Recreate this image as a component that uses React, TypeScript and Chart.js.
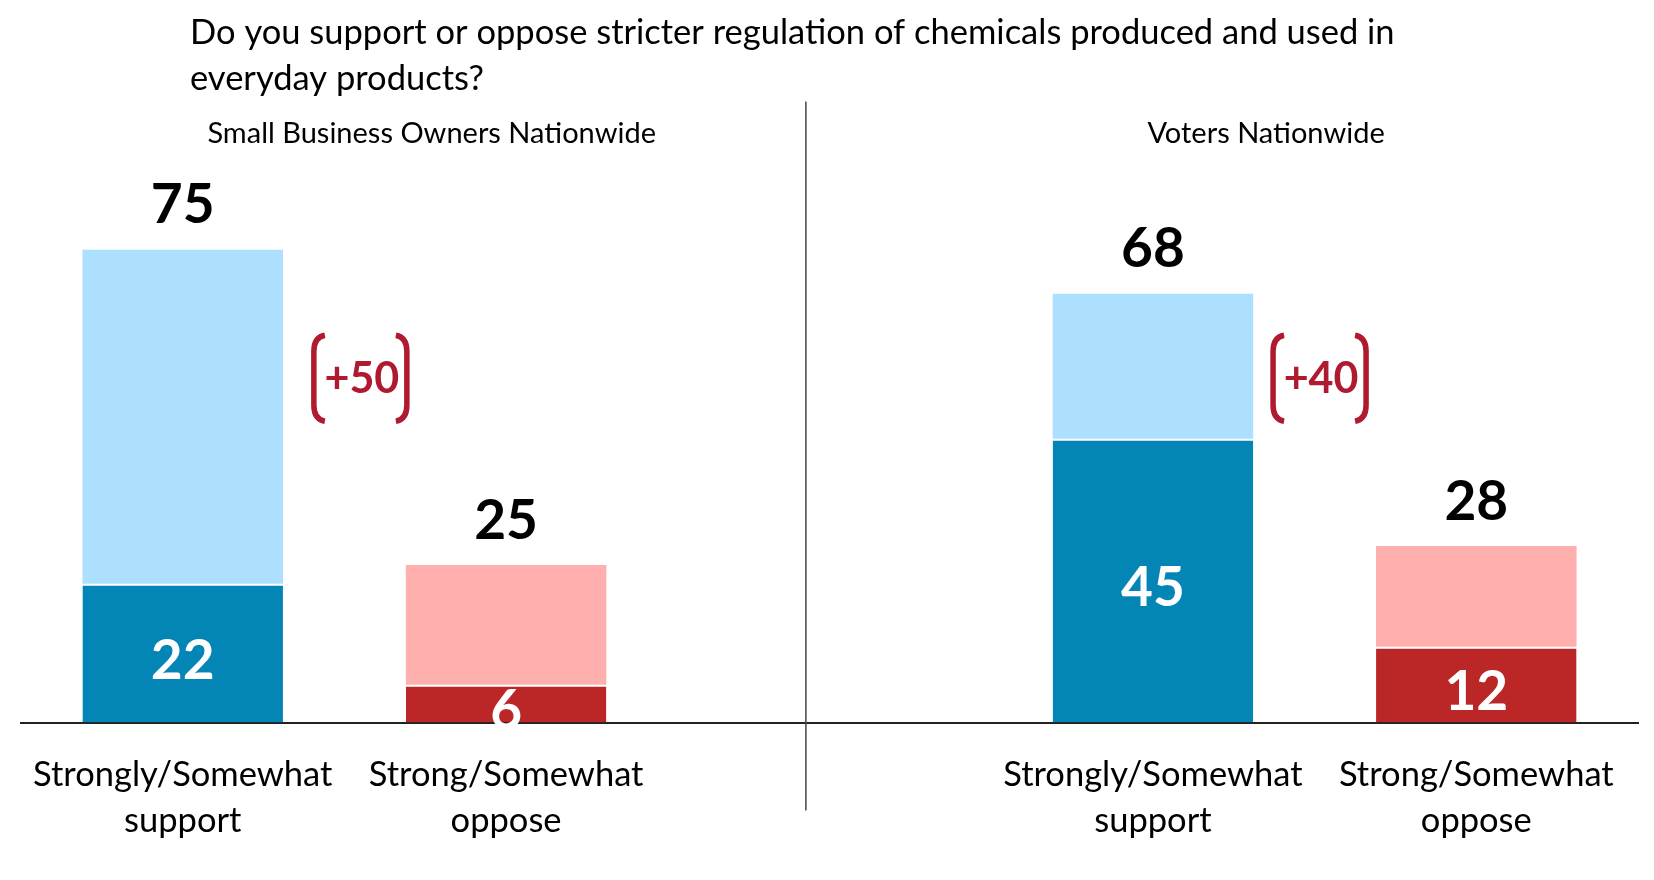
import React, { useEffect, useRef } from "react";
import { Chart, registerables } from "chart.js";

Chart.register(...registerables);

const categories = [
  "Strongly/Somewhat support",
  "Strong/Somewhat oppose",
  "",
  "Strongly/Somewhat support",
  "Strong/Somewhat oppose",
];
const categoryLines = [
  ["Strongly/Somewhat", "support"],
  ["Strong/Somewhat", "oppose"],
  [],
  ["Strongly/Somewhat", "support"],
  ["Strong/Somewhat", "oppose"],
];
const strongValues = [22, 6, null, 45, 12];
const totalValues = [75, 25, null, 68, 28];
const panelTitles = ["Small Business Owners Nationwide", "Voters Nationwide"];
const netLabels = ["+50", "+40"];
const titleLines = [
  "Do you support or oppose stricter regulation of chemicals produced and used in",
  "everyday products?",
];

const somewhatValues = totalValues.map((t, i) =>
  t == null || strongValues[i] == null ? null : (t as number) - (strongValues[i] as number)
);

const FONT = "Lato, 'Open Sans', sans-serif";
const DARK = ["#0385B5", "#BB2727", "#0385B5", "#0385B5", "#BB2727"];
const LIGHT = ["#ADDFFF", "#FFAFAD", "#ADDFFF", "#ADDFFF", "#FFAFAD"];
const BRACKET_RED = "#B01A30";

const overlay = {
  id: "overlay",
  afterDraw(chart: any) {
    const { ctx, chartArea } = chart;
    const x = chart.scales.x;
    const y = chart.scales.y;
    const slot = x.getPixelForValue(1) - x.getPixelForValue(0);
    ctx.save();

    // title
    ctx.fillStyle = "#000";
    ctx.font = `34.5px ${FONT}`;
    ctx.textAlign = "left";
    ctx.textBaseline = "middle";
    ctx.fillText(titleLines[0], 190, 33);
    ctx.fillText(titleLines[1], 190, 79);

    // panel subtitles
    ctx.font = `29px ${FONT}`;
    ctx.textAlign = "center";
    ctx.fillText(panelTitles[0], x.getPixelForValue(0.77), 134);
    ctx.fillText(panelTitles[1], x.getPixelForValue(3.35), 134);

    // divider
    const dx = x.getPixelForValue(2) - 0.073 * slot;
    ctx.strokeStyle = "#444";
    ctx.lineWidth = 1.5;
    ctx.beginPath();
    ctx.moveTo(dx, y.getPixelForValue(98.5));
    ctx.lineTo(dx, chartArea.bottom + 88);
    ctx.stroke();

    // category labels
    ctx.fillStyle = "#000";
    ctx.font = `34.5px ${FONT}`;
    categoryLines.forEach((lines, i) => {
      const cx = x.getPixelForValue(i);
      lines.forEach((ln, j) => {
        ctx.fillText(ln, cx, chartArea.bottom + 52.5 + j * 45.5);
      });
    });

    // value labels
    ctx.font = `bold 55px ${FONT}`;
    totalValues.forEach((t, i) => {
      if (t == null) return;
      const cx = x.getPixelForValue(i);
      ctx.fillStyle = "#000";
      ctx.fillText(String(t), cx, y.getPixelForValue(t) - 44);
      const s = strongValues[i] as number;
      ctx.fillStyle = "#fff";
      ctx.fillText(String(s), cx, y.getPixelForValue(s / 2) + 8);
    });

    // net brackets
    const supportIdx = [0, 3];
    const offs = [0.554, 0.52];
    supportIdx.forEach((si, k) => {
      const cx = x.getPixelForValue(si + offs[k]);
      const cy = y.getPixelForValue(54.6);
      ctx.fillStyle = BRACKET_RED;
      ctx.font = `bold 43px ${FONT}`;
      ctx.fillText(netLabels[k], cx, cy + 1);
      ctx.strokeStyle = BRACKET_RED;
      ctx.lineWidth = 5.5;
      const top = cy - 43;
      const bot = cy + 43;
      const lx = cx - 48;
      const rx = cx + 45;
      ctx.beginPath();
      ctx.moveTo(lx + 11, top);
      ctx.quadraticCurveTo(lx, top + 2, lx, top + 16);
      ctx.lineTo(lx, bot - 16);
      ctx.quadraticCurveTo(lx, bot - 2, lx + 11, bot);
      ctx.stroke();
      ctx.beginPath();
      ctx.moveTo(rx - 11, top);
      ctx.quadraticCurveTo(rx, top + 2, rx, top + 16);
      ctx.lineTo(rx, bot - 16);
      ctx.quadraticCurveTo(rx, bot - 2, rx - 11, bot);
      ctx.stroke();
    });

    ctx.restore();
  },
};

export default function App() {
  const ref = useRef<HTMLCanvasElement | null>(null);
  useEffect(() => {
    if (!ref.current) return;
    const chart = new Chart(ref.current, {
      type: "bar",
      data: {
        labels: categories,
        datasets: [
          {
            label: "Strongly",
            data: strongValues as any,
            backgroundColor: DARK,
            borderColor: "#fff",
            borderWidth: { top: 2, left: 0, right: 0, bottom: 0 },
            borderSkipped: false,
            categoryPercentage: 1,
            barPercentage: 0.62,
          },
          {
            label: "Somewhat",
            data: somewhatValues as any,
            backgroundColor: LIGHT,
            borderWidth: 0,
            categoryPercentage: 1,
            barPercentage: 0.62,
          },
        ],
      },
      options: {
        responsive: false,
        animation: false,
        layout: { padding: { left: 21, right: 16, top: 92, bottom: 149.5 } },
        plugins: { legend: { display: false }, tooltip: { enabled: false }, title: { display: false } },
        scales: {
          x: {
            stacked: true,
            grid: { display: false },
            ticks: { display: false },
            border: { display: true, color: "#222", width: 2 },
          },
          y: {
            stacked: true,
            display: false,
            min: 0,
            max: 100,
          },
        },
      },
      plugins: [overlay],
    });
    return () => chart.destroy();
  }, []);
  return (
    <div style={{ position: "absolute", left: 0, top: 0, width: 1654, height: 880, background: "#fff" }}>
      <canvas ref={ref} width={1654} height={880} />
    </div>
  );
}
